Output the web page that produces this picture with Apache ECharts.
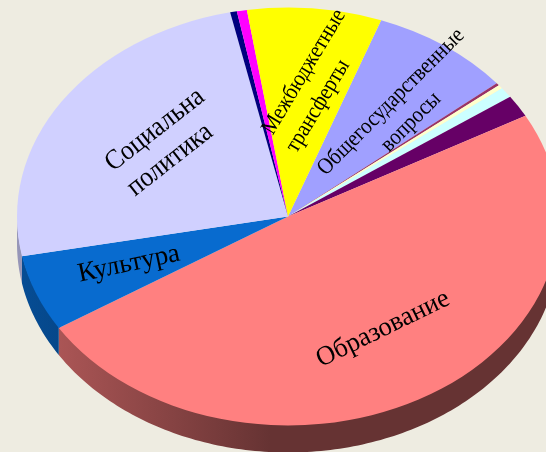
<!DOCTYPE html>
<html style="height: 100%">
<head>
    <meta charset="utf-8">
</head>
<body style="height: 100%; margin: 0; background: #eeece1">
<div id="container" style="width: 546px; height: 452px"></div>
<script type="text/javascript" src="https://cdn.jsdelivr.net/npm/echarts@6/dist/echarts.min.js"></script>
<script type="text/javascript">
// clockwise, starting from the first slice after "Межбюджетные трансферты"
var categories = ['Общегосударственные\nвопросы', '', '', '', '', 'Образование', 'Культура',
    'Социальна\nполитика', '', '', 'Межбюджетные\nтрансферты'];
var values = [8.4, 0.2, 0.3, 0.8, 1.7, 49.0, 5.9, 24.6, 0.4, 0.6, 8.0];
var colors = ['#a0a0ff', '#993366', '#ffffcc', '#ccffff', '#660066', '#ff8080', '#086bcf',
    '#d0d0ff', '#000080', '#ff00ff', '#ffff00'];

// label placement per text line, same order as categories:
// x, y, rotation in degrees, font size, horizontal squeeze (the labels look condensed)
var labelPos = [
    [[391, 102, 45, 23, 0.89], [411, 122, 45, 23, 0.89]], null, null, null, null,
    [[383, 329, 26, 27, 0.98]], [[129, 264, 12, 27, 1]],
    [[155, 130, 38, 28, 0.91], [170, 160, 38, 28, 0.91]], null, null,
    [[304, 72, 59, 23, 0.89], [318, 106, 59, 23, 0.89]]
];

var CX = 288, CY = 216.5, RX = 271, RY = 209, DEPTH = 27;
var START = 20.1; // degrees clockwise from 12 o'clock

var total = values.reduce(function (a, b) { return a + b; }, 0);

function toRad(deg) {
    return (deg - 90) * Math.PI / 180;
}

function shade(hex, k) {
    var c = echarts.color.parse(hex);
    return 'rgb(' + Math.round(c[0] * k) + ',' + Math.round(c[1] * k) + ',' + Math.round(c[2] * k) + ')';
}

// wall under the visible (front) part of a slice
function sidePoints(a0, a1) {
    var from = Math.max(a0, 90), to = Math.min(a1, 270);
    if (from >= to) {
        return null;
    }
    var top = [], bottom = [];
    for (var a = from; ; a += 1) {
        var d = Math.min(a, to);
        var x = CX + RX * Math.cos(toRad(d));
        var y = CY + RY * Math.sin(toRad(d));
        top.push([x, y - 2]);
        bottom.unshift([x, y + DEPTH]);
        if (d === to) {
            break;
        }
    }
    return top.concat(bottom);
}

function renderItem(params, api) {
    var i = params.dataIndex;
    var a0 = START;
    for (var k = 0; k < i; k++) {
        a0 += values[k] / total * 360;
    }
    var a1 = a0 + api.value(0) / total * 360;
    var children = [];

    var pts = sidePoints(a0, a1);
    if (pts) {
        children.push({
            type: 'polygon',
            z2: 1,
            shape: { points: pts },
            style: {
                fill: new echarts.graphic.LinearGradient(17, 0, 270, 0, [
                    { offset: 0, color: shade(colors[i], 0.72) },
                    { offset: 1, color: shade(colors[i], 0.4) }
                ], true)
            }
        });
    }

    children.push({
        type: 'sector',
        z2: 2,
        x: CX,
        y: CY,
        scaleY: RY / RX,
        shape: { cx: 0, cy: 0, r: RX, r0: 0, startAngle: toRad(a0), endAngle: toRad(a1), clockwise: true },
        style: { fill: colors[i] }
    });

    (labelPos[i] || []).forEach(function (pos, n) {
        children.push({
            type: 'text',
            z2: 3,
            x: pos[0],
            y: pos[1],
            rotation: pos[2] * Math.PI / 180,
            scaleX: pos[4],
            style: {
                text: categories[i].split('\n')[n],
                fill: '#000',
                font: pos[3] + 'px "Liberation Serif"',
                align: 'center',
                verticalAlign: 'middle'
            }
        });
    });
    return { type: 'group', children: children };
}

var myChart = echarts.init(document.getElementById('container'));
myChart.setOption({
    backgroundColor: '#eeece1',
    animation: false,
    series: [{
        type: 'custom',
        coordinateSystem: 'none',
        renderItem: renderItem,
        data: values.map(function (v) { return [v]; })
    }]
});
</script>
</body>
</html>
